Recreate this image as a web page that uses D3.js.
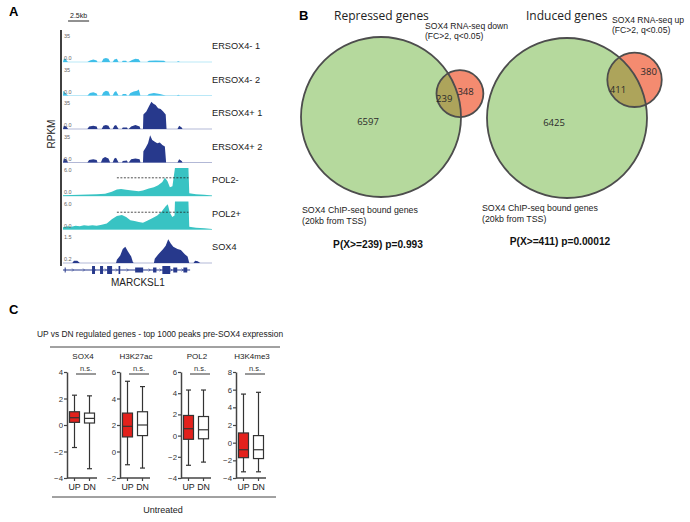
<!DOCTYPE html>
<html>
<head>
<meta charset="utf-8">
<script src="https://cdn.jsdelivr.net/npm/d3@7"></script>
<style>
body { margin: 0; background: #fff; }
svg { display: block; font-family: "Liberation Sans", Arial, sans-serif; }
</style>
</head>
<body>
<svg id="fig" width="690" height="522"></svg>
<script>
// ---------- panel A: genome browser tracks (positions in kb) ----------
const trackNames = ['ERSOX4- 1', 'ERSOX4- 2', 'ERSOX4+ 1', 'ERSOX4+ 2', 'POL2-', 'POL2+', 'SOX4'];
const trackMin = [0, 0, 0, 0, 0, 0, 0.2];
const trackMax = [35, 35, 35, 35, 6, 6, 1.5];
const trackMinLabel = ['0.0', '0.0', '0.0', '0.0', '0.0', '0.0', '0.2'];
const trackMaxLabel = ['35', '35', '35', '35', '6.0', '6.0', '1.5'];

const ersoxMinus1 = [[0,0],[0.1,4],[0.3,4],[0.5,1],[0.6,0],[2.9,0],[3.2,2],[3.6,3],[4.0,2],[4.1,0],
  [4.6,0],[4.8,4],[5.1,5],[5.4,4],[5.6,0],[5.9,0],[6.1,3],[6.4,4],[6.6,0],[7.0,0],[7.1,1.5],[7.5,1.5],[7.6,0],
  [7.8,0],[8.2,2.5],[8.6,4],[9.0,3.5],[9.2,0],[10.0,0],[10.2,1.5],[11.0,2],[12.0,1.5],[12.2,0],
  [13.5,0],[13.7,0.8],[13.9,0],[17.7,0]];
const ersoxMinus2 = [[0,0],[0.05,6],[0.2,4],[0.4,2],[0.6,0],[2.9,0],[3.2,3],[3.6,4],[4.0,2.5],[4.1,0],
  [4.6,0],[4.8,4],[5.1,6],[5.4,5],[5.6,0],[5.9,0],[6.1,4],[6.3,5.5],[6.6,0],[7.0,0],[7.1,2],[7.5,2],[7.6,0],
  [7.8,0],[8.0,3],[8.4,5],[8.8,6],[9.0,7.5],[9.2,0],[10.0,0],[10.2,2],[10.8,3],[11.5,2],[12.2,0],
  [13.5,0],[13.7,1],[13.9,0],[17.7,0]];
const ersoxPlus1 = [[0,0],[0.1,4],[0.4,3],[0.6,0],[2.9,0],[3.1,3],[3.6,4],[4.0,3],[4.1,0],
  [4.6,0],[4.8,4],[5.1,5],[5.4,4],[5.6,0],[5.9,0],[6.1,4],[6.3,5],[6.6,0],[7.0,0],[7.1,2],[7.6,2],[7.7,0],
  [7.8,0],[8.1,3],[8.6,5],[9.1,3],[9.2,0],[9.5,0],[9.55,18],[9.9,22],[10.2,28],[10.5,34],[10.7,32],
  [11.0,30],[11.3,26],[11.6,25],[11.9,22],[12.2,18],[12.3,0],[13.6,0],[13.8,4],[14.1,2],[14.2,0],[17.7,0]];
const ersoxPlus2 = [[0,0],[0.1,5],[0.4,4],[0.6,0],[2.9,0],[3.1,3],[3.6,4],[4.0,3],[4.1,0],
  [4.5,0],[4.7,5],[5.0,7],[5.4,5],[5.6,0],[5.9,0],[6.1,5],[6.3,6],[6.6,0],[7.0,0],[7.1,2],[7.6,2.5],[7.7,0],
  [7.8,0],[8.1,4],[8.6,5],[9.1,4],[9.2,0],[9.5,0],[9.55,14],[9.8,18],[10.1,24],[10.35,34],[10.6,28],
  [10.9,26],[11.2,24],[11.5,25],[11.8,22],[12.1,20],[12.25,0],[13.6,0],[13.8,4],[14.1,2],[14.2,0],[17.7,0]];
const pol2Minus = [[0,0.15],[1,0.2],[2,0.25],[3,0.3],[4,0.35],[5,0.5],[5.8,0.9],[6.4,1.4],[6.9,1.5],
  [7.5,1.35],[8.2,1.2],[9.0,1.0],[9.5,1.2],[10.2,1.6],[10.8,1.9],[11.3,2.3],[11.8,3.0],[12.1,3.9],
  [12.4,3.2],[12.7,1.9],[13.0,2.1],[13.3,8],[14.9,8],[15.0,0.6],[15.8,0.4],[16.8,0.25],[17.7,0.1]];
const pol2Plus = [[0,0.5],[0.5,0.7],[1,0.6],[1.5,0.8],[2,0.7],[2.5,0.9],[3,0.8],[3.5,0.9],[4,0.8],
  [4.6,1.0],[5.2,1.3],[5.8,2.2],[6.4,2.9],[7.0,3.1],[7.5,2.7],[8.0,2.0],[8.5,1.8],[9.0,1.6],[9.5,1.45],
  [10.0,1.9],[10.6,2.4],[11.2,3.0],[11.7,3.8],[12.2,5.0],[12.45,5.4],[12.7,3.6],[12.98,2.7],[13.25,3.0],
  [13.3,8],[14.9,8],[15.0,0.6],[15.8,0.4],[16.8,0.25],[17.7,0.1]];
const sox4Chip = [[0,0.2],[1.1,0.2],[1.3,0.3],[1.7,0.3],[2.0,0.2],[6.3,0.2],[6.4,0.35],[6.8,0.55],
  [7.1,0.85],[7.4,0.95],[7.7,0.75],[8.1,0.5],[8.3,0.25],[8.4,0.2],[10.8,0.2],[10.9,0.4],[11.3,0.6],
  [11.9,0.85],[12.2,1.0],[12.5,1.3],[12.8,1.1],[13.1,0.95],[13.6,0.85],[14.0,0.8],[14.5,0.6],[14.8,0.5],
  [15.0,0.2],[15.5,0.2],[15.7,0.3],[16.0,0.28],[16.3,0.2],[17.7,0.2]];
const trackValues = [ersoxMinus1, ersoxMinus2, ersoxPlus1, ersoxPlus2, pol2Minus, pol2Plus, sox4Chip];
const trackColors = ['#3fbfe9', '#3fbfe9', '#27398c', '#27398c', '#38c3c3', '#38c3c3', '#27398c'];

// dashed reference on POL2 tracks: [track, level, from kb, to kb]
const pol2Dashes = [['POL2-', 3.9, 6.4, 14.9], ['POL2+', 3.7, 6.4, 14.9]];

// MARCKSL1 gene model: [start kb, end kb, kind]
const geneSpan = [0, 15.1];
const geneExons = [[0.2,0.3,'utr'],[3.45,3.8,'cds'],[4.4,4.76,'cds'],[5.24,5.83,'cds'],[6.6,6.8,'cds'],
  [8.57,9.52,'utr'],[10.7,11.1,'utr'],[11.8,12.74,'cds'],[13.1,13.57,'utr'],[14.3,14.76,'utr']];

// ---------- panel B: venn diagrams ----------
const vennTitles = ['Repressed genes', 'Induced genes'];
const chipOnly = [6597, 6425];
const overlapCount = [239, 411];
const rnaOnly = [348, 380];
const rnaLabels = [['SOX4 RNA-seq down', '(FC>2,  q<0.05)'], ['SOX4 RNA-seq up', '(FC>2,  q<0.05)']];
const pLabels = ['P(X>=239) p=0.993', 'P(X>=411) p=0.00012'];

// ---------- panel C: box plots [low whisker, Q1, median, Q3, high whisker] ----------
const marks = ['SOX4', 'H3K27ac', 'POL2', 'H3K4me3'];
const groups = ['UP', 'DN'];
const upStats = [[-1.7,0.2,0.55,1.0,2.25],[-1.0,1.1,1.9,2.9,5.3],[-2.8,-0.35,0.65,1.9,4.3],[-3.3,-1.7,-0.8,1.1,5.5]];
const dnStats = [[-3.3,0.15,0.5,0.9,2.2],[-1.25,1.2,2.0,3.0,4.9],[-2.5,-0.3,0.55,1.8,4.3],[-3.3,-1.8,-0.8,0.8,5.7]];
const yDomains = [[-4,4],[-2,6],[-4,6],[-4,8]];

const svg = d3.select('#fig');

// ================= panel A =================
const panelA = svg.append('g');
panelA.append('text').attr('x', 9).attr('y', 16).attr('font-size', 13).attr('font-weight', 'bold').text('A');

const x = d3.scaleLinear().domain([0, 17.7]).range([63, 212]);
const rows = d3.scaleBand().domain(trackNames).range([33, 33 + 7 * 33.5]);

// scale bar
panelA.append('text').attr('x', (x(0.6) + x(3.1)) / 2).attr('y', 18).attr('text-anchor', 'middle')
  .attr('font-size', 7).attr('fill', '#222').text('2.5kb');
panelA.append('line').attr('x1', x(0.6)).attr('x2', x(3.1)).attr('y1', 21).attr('y2', 21)
  .attr('stroke', '#222').attr('stroke-width', 1);

panelA.append('line').attr('x1', 61).attr('x2', 61).attr('y1', 30).attr('y2', 266)
  .attr('stroke', '#111').attr('stroke-width', 1.6);
panelA.append('text').attr('transform', 'translate(55,134) rotate(-90)').attr('text-anchor', 'middle')
  .attr('font-size', 10).attr('fill', '#222').text('RPKM');

trackNames.forEach((name, i) => {
  const base = rows(name) + 29;
  const y = d3.scaleLinear().domain([trackMin[i], trackMax[i]]).range([base, base - 28]).clamp(true);
  const g = panelA.append('g');
  g.append('line').attr('x1', x(0)).attr('x2', x(17.7)).attr('y1', base).attr('y2', base)
    .attr('stroke', trackColors[i]).attr('stroke-opacity', 0.6).attr('stroke-width', 0.6);
  g.append('path').datum(trackValues[i])
    .attr('d', d3.area().x(d => x(d[0])).y0(base).y1(d => y(d[1])))
    .attr('fill', trackColors[i]);
  g.append('text').attr('x', 64).attr('y', base - 24).attr('font-size', 5.5).attr('fill', '#666').text(trackMaxLabel[i]);
  g.append('text').attr('x', 64).attr('y', base - 2).attr('font-size', 5.5).attr('fill', '#666').text(trackMinLabel[i]);
  g.append('text').attr('x', 212).attr('y', base - 13).attr('font-size', 9.2).attr('fill', '#222').text(name);
  pol2Dashes.filter(d => d[0] === name).forEach(d => {
    g.append('line').attr('x1', x(d[2])).attr('x2', x(d[3])).attr('y1', y(d[1])).attr('y2', y(d[1]))
      .attr('stroke', '#222').attr('stroke-width', 0.8).attr('stroke-dasharray', '2,1.5');
  });
});

// gene model
const geneY = 270;
panelA.append('line').attr('x1', x(geneSpan[0])).attr('x2', x(geneSpan[1])).attr('y1', geneY).attr('y2', geneY)
  .attr('stroke', '#27398c').attr('stroke-width', 1);
panelA.selectAll('.exon').data(geneExons).join('rect')
  .attr('x', d => x(d[0])).attr('width', d => Math.max(1, x(d[1]) - x(d[0])))
  .attr('y', d => geneY - (d[2] === 'cds' ? 4 : 2.5)).attr('height', d => d[2] === 'cds' ? 8 : 5)
  .attr('fill', '#27398c');
panelA.selectAll('.strand').data(d3.range(1.2, 15, 1.3)).join('path')
  .attr('d', d => `M${x(d) - 1},${geneY - 1.5}L${x(d) + 0.5},${geneY}L${x(d) - 1},${geneY + 1.5}`)
  .attr('fill', 'none').attr('stroke', '#27398c').attr('stroke-width', 0.6);
panelA.append('text').attr('x', x(8.9)).attr('y', geneY + 16).attr('text-anchor', 'middle')
  .attr('font-size', 10).attr('fill', '#222').text('MARCKSL1');

// ================= panel B =================
const panelB = svg.append('g');
panelB.append('text').attr('x', 299).attr('y', 20).attr('font-size', 13).attr('font-weight', 'bold').text('B');

const radius = d3.scaleSqrt().domain([0, chipOnly[0] + overlapCount[0]]).range([0, 80]);
const bigCenters = [[381, 117], [567, 118]];
const directions = [-16.5, -29.5];
const onlyShift = [0.25, 0.6];
const titleX = [334, 526];
const rnaTextPos = [[425, 29], [612, 23]];
const chipTextX = [302, 482];
const pTextX = [378, 560];
const pTextY = [248, 245];

function lensArea(r1, r2, d) {
  if (d >= r1 + r2) return 0;
  if (d <= Math.abs(r1 - r2)) return Math.PI * Math.min(r1, r2) ** 2;
  const a = r1 * r1 * Math.acos((d * d + r1 * r1 - r2 * r2) / (2 * d * r1));
  const b = r2 * r2 * Math.acos((d * d + r2 * r2 - r1 * r1) / (2 * d * r2));
  const c = 0.5 * Math.sqrt((-d + r1 + r2) * (d + r1 - r2) * (d - r1 + r2) * (d + r1 + r2));
  return a + b - c;
}
function distanceFor(r1, r2, area) {
  let lo = Math.abs(r1 - r2), hi = r1 + r2;
  for (let k = 0; k < 60; k++) {
    const mid = (lo + hi) / 2;
    if (lensArea(r1, r2, mid) > area) lo = mid; else hi = mid;
  }
  return (lo + hi) / 2;
}

vennTitles.forEach((title, i) => {
  const g = panelB.append('g');
  const [cx, cy] = bigCenters[i];
  const r1 = radius(chipOnly[i] + overlapCount[i]);
  const r2 = radius(overlapCount[i] + rnaOnly[i]);
  const lens = Math.PI * radius(overlapCount[i]) ** 2;
  const d = distanceFor(r1, r2, lens);
  const ang = directions[i] * Math.PI / 180;
  const sx = cx + d * Math.cos(ang), sy = cy + d * Math.sin(ang);

  const clipId = 'bigclip' + i;
  g.append('clipPath').attr('id', clipId).append('circle').attr('cx', cx).attr('cy', cy).attr('r', r1);
  g.append('circle').attr('cx', cx).attr('cy', cy).attr('r', r1).attr('fill', '#b5d99d');
  g.append('circle').attr('cx', sx).attr('cy', sy).attr('r', r2).attr('fill', '#f48b70');
  g.append('circle').attr('cx', sx).attr('cy', sy).attr('r', r2).attr('fill', '#ada45b')
    .attr('clip-path', `url(#${clipId})`);
  g.append('circle').attr('cx', cx).attr('cy', cy).attr('r', r1).attr('fill', 'none')
    .attr('stroke', '#4d4d4d').attr('stroke-width', 1.8);
  g.append('circle').attr('cx', sx).attr('cy', sy).attr('r', r2).attr('fill', 'none')
    .attr('stroke', '#4d4d4d').attr('stroke-width', 1.8);

  const putNum = (tx, ty, t) => g.append('text').attr('x', tx).attr('y', ty).attr('dy', '0.36em')
    .attr('text-anchor', 'middle').attr('font-family', '"Open Sans", "Noto Sans", sans-serif')
    .attr('font-size', 9.5).attr('fill', '#2a2a2a').text(t);
  putNum(cx - 13, cy + 5, chipOnly[i]);
  putNum(sx - 0.7 * r2 * Math.cos(ang), sy - 0.7 * r2 * Math.sin(ang), overlapCount[i]);
  putNum(sx + onlyShift[i] * r2 * Math.cos(ang), sy + onlyShift[i] * r2 * Math.sin(ang), rnaOnly[i]);

  g.append('text').attr('x', titleX[i]).attr('y', 20).attr('font-size', 12)
    .attr('font-family', '"Open Sans", "Noto Sans", sans-serif').attr('fill', '#222').text(title);
  g.append('text').attr('x', rnaTextPos[i][0]).attr('y', rnaTextPos[i][1]).attr('font-size', 8.6).attr('fill', '#222')
    .selectAll('tspan').data(rnaLabels[i]).join('tspan')
    .attr('x', rnaTextPos[i][0]).attr('dy', (t, k) => k ? 10 : 0).text(t => t);
  g.append('text').attr('x', chipTextX[i]).attr('y', 213 - i * 2).attr('font-size', 8.8).attr('fill', '#222')
    .selectAll('tspan').data(['SOX4 ChIP-seq bound genes', '(20kb from TSS)']).join('tspan')
    .attr('x', chipTextX[i]).attr('dy', (t, k) => k ? 11 : 0).text(t => t);
  g.append('text').attr('x', pTextX[i]).attr('y', pTextY[i]).attr('text-anchor', 'middle')
    .attr('font-size', 10.2).attr('font-weight', 'bold').attr('fill', '#111').text(pLabels[i]);
});

// ================= panel C =================
const panelC = svg.append('g');
panelC.append('text').attr('x', 9).attr('y', 314).attr('font-size', 13).attr('font-weight', 'bold').text('C');
panelC.append('text').attr('x', 160).attr('y', 337).attr('text-anchor', 'middle').attr('font-size', 8.4)
  .attr('fill', '#222').text('UP vs DN regulated genes - top 1000 peaks pre-SOX4 expression');
panelC.append('line').attr('x1', 50).attr('x2', 280).attr('y1', 347).attr('y2', 347).attr('stroke', '#444').attr('stroke-width', 1);
panelC.append('line').attr('x1', 52).attr('x2', 276).attr('y1', 497).attr('y2', 497).attr('stroke', '#444').attr('stroke-width', 1);
panelC.append('text').attr('x', 163).attr('y', 513).attr('text-anchor', 'middle').attr('font-size', 9)
  .attr('fill', '#222').text('Untreated');

const axisX = [67, 120, 181, 236];
const boxW = 10;

marks.forEach((mark, i) => {
  const ax = axisX[i];
  const y = d3.scaleLinear().domain(yDomains[i]).range([478, 372]);
  const xb = d3.scaleBand().domain(groups).range([ax, ax + 30]);
  const g = panelC.append('g');

  g.append('text').attr('x', ax + 16).attr('y', 359).attr('text-anchor', 'middle').attr('font-size', 8)
    .attr('fill', '#222').text(mark);

  const yAxis = g.append('g').attr('transform', `translate(${ax},0)`)
    .call(d3.axisLeft(y).ticks(5).tickSize(3).tickSizeOuter(0));
  yAxis.select('.domain').attr('stroke', '#444').attr('stroke-width', 1.5);
  yAxis.selectAll('.tick line').attr('stroke', '#444').attr('stroke-width', 1.2);
  yAxis.selectAll('.tick text').attr('font-size', 7.8).attr('fill', '#333').attr('x', -4)
    .attr('font-family', '"Liberation Sans", Arial, sans-serif');

  const xAxis = g.append('g').attr('transform', 'translate(0,478)')
    .call(d3.axisBottom(xb).tickSize(3).tickSizeOuter(0));
  xAxis.select('.domain').attr('stroke', '#444').attr('stroke-width', 1.5)
    .attr('d', `M${ax},0H${ax + 30}`);
  xAxis.selectAll('.tick line').attr('stroke', '#444').attr('stroke-width', 1.2);
  xAxis.selectAll('.tick text').attr('font-size', 8.8).attr('fill', '#222').attr('y', 6)
    .attr('font-family', '"Liberation Sans", Arial, sans-serif');

  [upStats[i], dnStats[i]].forEach((s, k) => {
    const cx = xb(groups[k]) + xb.bandwidth() / 2;
    const bg = g.append('g').attr('stroke', '#333').attr('stroke-width', 1.2);
    bg.append('line').attr('x1', cx).attr('x2', cx).attr('y1', y(s[0])).attr('y2', y(s[4]));
    bg.append('line').attr('x1', cx - 2.5).attr('x2', cx + 2.5).attr('y1', y(s[0])).attr('y2', y(s[0]));
    bg.append('line').attr('x1', cx - 2.5).attr('x2', cx + 2.5).attr('y1', y(s[4])).attr('y2', y(s[4]));
    bg.append('rect').attr('x', cx - boxW / 2).attr('width', boxW).attr('y', y(s[3]))
      .attr('height', y(s[1]) - y(s[3])).attr('fill', k === 0 ? '#e3211c' : '#fff');
    bg.append('line').attr('x1', cx - boxW / 2).attr('x2', cx + boxW / 2).attr('y1', y(s[2])).attr('y2', y(s[2]));
  });

  g.append('line').attr('x1', ax + 9).attr('x2', ax + 29).attr('y1', 374).attr('y2', 374)
    .attr('stroke', '#333').attr('stroke-width', 1);
  g.append('text').attr('x', ax + 19).attr('y', 371).attr('text-anchor', 'middle').attr('font-size', 7.5)
    .attr('fill', '#333').text('n.s.');
});
</script>
</body>
</html>
